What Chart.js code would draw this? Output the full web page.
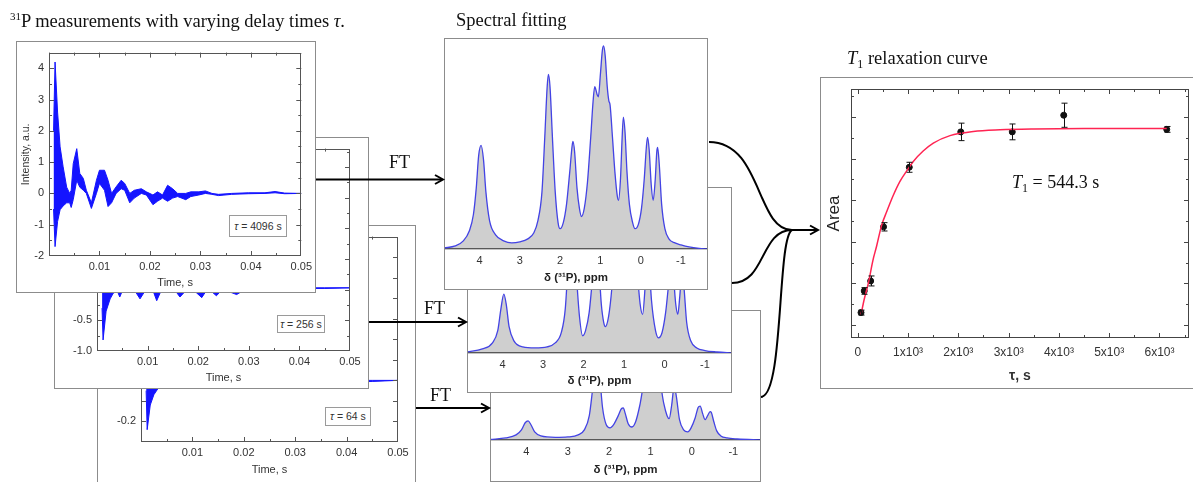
<!DOCTYPE html>
<html>
<head>
<meta charset="utf-8">
<title>31P T1 relaxation</title>
<script src="https://cdn.jsdelivr.net/npm/chart.js@4.4.1/dist/chart.umd.min.js"></script>
<style>
  body { margin: 0; width: 1193px; height: 482px; overflow: hidden; position: relative; background: #fff;
         font-family: "Liberation Serif", "Times New Roman", serif; color: #111; }
  .panel { position: absolute; background: #fff; }
  .panel canvas { position: absolute; left: 0; top: 0; }
  .frame { position: absolute; left: 0; top: 0; right: 0; bottom: 0; border: 1px solid #8c8c8c; }
  .txt { position: absolute; white-space: nowrap; z-index: 11; }
  .tau { position: absolute; border: 1px solid #9a9a9a; background: #fff; box-sizing: border-box;
         font: 10.5px "Liberation Sans", Arial, sans-serif; color: #333; text-align: center; }
  .ft { position: absolute; font-size: 18px; z-index: 11; }
  svg { position: absolute; left: 0; top: 0; z-index: 10; }
</style>
</head>
<body>

<div class="txt" style="left:10px;top:11px;font-size:18.5px"><span style="font-size:11px;position:relative;top:-7px">31</span>P measurements with varying delay times <i>τ</i>.</div>
<div class="txt" style="left:456px;top:10px;font-size:18.5px">Spectral fitting</div>
<div class="txt" style="left:847px;top:48px;font-size:18.5px"><i>T</i><span style="font-size:12px;position:relative;top:4px">1</span> relaxation curve</div>
<div class="txt" style="left:1012px;top:172px;font-size:18px"><i>T</i><span style="font-size:12px;position:relative;top:4px">1</span> = 544.3 s</div>

<div class="ft" style="left:389px;top:152px">FT</div>
<div class="ft" style="left:424px;top:298px">FT</div>
<div class="ft" style="left:430px;top:385px">FT</div>

<svg width="1193" height="482">
  <g fill="none" stroke="#000" stroke-width="2">
    <path d="M316 179.5 H442"/><path d="M435 175 L443 179.5 L435 184"/>
    <path d="M369 322 H465"/><path d="M458 317.5 L466 322 L458 326.5"/>
    <path d="M416 408 H488"/><path d="M481 403.5 L489 408 L481 412.5"/>
    <path d="M709 142 C762 142 756 230 792 230"/>
    <path d="M732 283 C766 283 760 230 792 230"/>
    <path d="M761 397 C784 396 777 238 792 230"/>
    <path d="M790 230 H817"/><path d="M810 225.5 L818 230 L810 234.5"/>
  </g>
</svg>

<script>
// ---------- FID traces (envelope) ----------
const fidTime4096 = [0.0009, 0.0012, 0.0017, 0.0022, 0.0028, 0.0035, 0.0041, 0.0044, 0.0048, 0.0055, 0.0061,
  0.0068, 0.0074, 0.0084, 0.0094, 0.0100, 0.0110, 0.0117, 0.0124, 0.0133, 0.0143, 0.0150, 0.0160, 0.0169,
  0.0183, 0.0193, 0.0206, 0.0215, 0.0225, 0.0235, 0.0245, 0.0255, 0.0271, 0.0281, 0.0297, 0.0310, 0.0323,
  0.0336, 0.0362, 0.0395, 0.0428, 0.0448, 0.0467, 0.0500];
const fidUpper4096 = [2.0, 4.2, 2.6, 1.49, 0.85, 0.2, 0.0, 0.1, 0.95, 1.43, 0.64,
  0.48, 0.1, -0.3, 0.42, 0.74, 0.74, 0.42, 0.0, 0.21, 0.42, 0.32, 0.0, 0.1,
  0.15, 0.05, -0.05, 0.05, -0.05, 0.26, 0.15, 0.0, 0.0, 0.05, 0.05, 0.08, 0.0,
  -0.03, 0.0, 0.02, 0.02, 0.06, 0.01, 0.0];
const fidLower4096 = [-0.5, -1.7, -0.9, -0.52, -0.4, -0.3, -0.3, -0.45, -0.2, 0.42, 0.2,
  0.1, 0.0, -0.48, 0.0, 0.32, 0.1, -0.42, -0.3, 0.0, 0.15, 0.1, -0.3, -0.15,
  0.0, -0.05, -0.36, -0.25, -0.15, -0.25, -0.15, -0.1, -0.2, -0.1, -0.05, 0.0, -0.03,
  -0.07, -0.03, -0.01, 0.0, 0.02, -0.01, 0.0];

const fidTime256 = [0.0010, 0.0012, 0.0018, 0.0026, 0.0032, 0.0040, 0.0045, 0.0050, 0.0060, 0.0075, 0.0085,
  0.0095, 0.0110, 0.0118, 0.0126, 0.0140, 0.0155, 0.0164, 0.0175, 0.0190, 0.0207, 0.0215, 0.0225, 0.0236,
  0.0245, 0.0260, 0.0276, 0.0290, 0.0320, 0.0360, 0.0400, 0.0450, 0.0500];
const fidUpper256 = [0.6, 1.6, 1.0, 0.6, 0.35, 0.25, 0.15, 0.4, 0.6, 0.3, 0.1,
  0.35, 0.35, 0.1, 0.2, 0.2, 0.1, 0.05, 0.12, 0.1, 0.05, 0.1, 0.05, 0.1,
  0.05, 0.05, 0.02, 0.05, 0.04, 0.03, 0.03, 0.03, 0.03];
const fidLower256 = [-0.3, -0.82, -0.35, -0.15, -0.06, -0.02, -0.12, -0.02, 0.0, -0.02, -0.15,
  -0.02, 0.0, -0.18, -0.03, 0.0, -0.02, -0.12, -0.02, 0.0, -0.13, -0.03, -0.02, -0.1,
  -0.02, -0.03, -0.08, -0.01, 0.01, 0.02, 0.02, 0.02, 0.03];

const fidTime64 = [0.0010, 0.0012, 0.0018, 0.0025, 0.0033, 0.0045, 0.0060, 0.0080, 0.0100, 0.0130,
  0.0160, 0.0200, 0.0250, 0.0300, 0.0350, 0.0400, 0.0450, 0.0500];
const fidUpper64 = [0.1, 0.35, 0.2, 0.12, 0.08, 0.05, 0.08, 0.04, 0.05, 0.03, 0.03, 0.02, 0.01, 0.01, 0.0, 0.0, 0.0, 0.0];
const fidLower64 = [-0.05, -0.24, -0.12, -0.07, -0.04, -0.02, -0.01, -0.02, -0.01, -0.01, 0.0, -0.01, 0.0, -0.01, 0.0, -0.01, -0.005, 0.0];

// ---------- 31P spectra (ppm, intensity) ----------
const ppm4096 = [4.88, 4.6, 4.4, 4.25, 4.15, 4.08, 4.02, 3.96, 3.90, 3.84, 3.75, 3.6, 3.4, 3.2, 3.0, 2.8, 2.65,
  2.55, 2.45, 2.38, 2.32, 2.29, 2.25, 2.19, 2.12, 2.05, 2.0, 1.92, 1.84, 1.76, 1.70, 1.68, 1.64, 1.58, 1.52,
  1.47, 1.40, 1.32, 1.24, 1.18, 1.14, 1.08, 1.05, 1.00, 0.95, 0.92, 0.88, 0.83, 0.79, 0.76, 0.70, 0.64, 0.58,
  0.55, 0.50, 0.46, 0.43, 0.39, 0.34, 0.28, 0.20, 0.14, 0.06, -0.02, -0.09, -0.14, -0.17, -0.21, -0.26,
  -0.31, -0.36, -0.40, -0.42, -0.46, -0.52, -0.60, -0.70, -0.85, -1.0, -1.2, -1.45, -1.67];
const int4096 = [0.005, 0.015, 0.04, 0.09, 0.17, 0.30, 0.46, 0.51, 0.44, 0.28, 0.14, 0.07, 0.04, 0.03, 0.035, 0.05, 0.08,
  0.14, 0.28, 0.55, 0.80, 0.86, 0.80, 0.55, 0.28, 0.13, 0.10, 0.13, 0.22, 0.38, 0.51, 0.53, 0.48, 0.30, 0.20,
  0.16, 0.20, 0.33, 0.55, 0.73, 0.80, 0.76, 0.75, 0.86, 0.98, 1.00, 0.95, 0.80, 0.73, 0.71, 0.55, 0.38, 0.26,
  0.24, 0.35, 0.55, 0.65, 0.58, 0.38, 0.22, 0.13, 0.10, 0.12, 0.20, 0.35, 0.50, 0.55, 0.49, 0.32,
  0.24, 0.34, 0.48, 0.50, 0.42, 0.22, 0.10, 0.05, 0.03, 0.02, 0.01, 0.003, 0.0];

const ppm256 = [4.88, 4.5, 4.25, 4.12, 4.04, 3.97, 3.91, 3.84, 3.72, 3.5, 3.2, 2.9, 2.7, 2.55, 2.45, 2.38,
  2.32, 2.29, 2.25, 2.18, 2.10, 2.02, 1.95, 1.86, 1.78, 1.71, 1.67, 1.62, 1.56, 1.50, 1.46, 1.38, 1.30,
  1.22, 1.15, 1.06, 0.98, 0.92, 0.85, 0.77, 0.68, 0.60, 0.54, 0.48, 0.43, 0.38, 0.32, 0.22, 0.15, 0.06,
  -0.03, -0.10, -0.17, -0.22, -0.28, -0.33, -0.38, -0.43, -0.48, -0.55, -0.65, -0.8, -1.0, -1.3, -1.67];
const int256 = [0.005, 0.02, 0.05, 0.11, 0.22, 0.29, 0.24, 0.13, 0.06, 0.03, 0.025, 0.03, 0.05, 0.10, 0.22, 0.45,
  0.68, 0.72, 0.66, 0.40, 0.18, 0.085, 0.11, 0.20, 0.36, 0.47, 0.49, 0.42, 0.24, 0.15, 0.13, 0.18, 0.32,
  0.55, 0.68, 0.64, 0.75, 0.86, 0.78, 0.62, 0.42, 0.24, 0.19, 0.32, 0.50, 0.44, 0.26, 0.11, 0.075, 0.10,
  0.20, 0.33, 0.44, 0.38, 0.24, 0.19, 0.28, 0.40, 0.33, 0.15, 0.06, 0.025, 0.012, 0.005, 0.0];

const ppm64 = [4.88, 4.5, 4.25, 4.12, 4.03, 3.96, 3.89, 3.80, 3.65, 3.3, 3.0, 2.75, 2.6, 2.48, 2.40, 2.33,
  2.29, 2.24, 2.16, 2.07, 1.98, 1.88, 1.78, 1.70, 1.66, 1.61, 1.54, 1.45, 1.36, 1.26, 1.16, 1.05, 0.95,
  0.88, 0.78, 0.68, 0.60, 0.55, 0.49, 0.43, 0.38, 0.30, 0.20, 0.10, 0.02, -0.08, -0.15, -0.20, -0.26,
  -0.32, -0.38, -0.44, -0.47, -0.53, -0.6, -0.7, -0.85, -1.1, -1.67];
const int64 = [0.003, 0.01, 0.025, 0.05, 0.085, 0.094, 0.075, 0.04, 0.02, 0.013, 0.015, 0.025, 0.05, 0.12, 0.25, 0.38,
  0.40, 0.34, 0.16, 0.075, 0.06, 0.08, 0.12, 0.155, 0.158, 0.13, 0.08, 0.064, 0.09, 0.17, 0.28, 0.32, 0.38,
  0.36, 0.30, 0.18, 0.12, 0.105, 0.17, 0.26, 0.22, 0.10, 0.05, 0.04, 0.06, 0.11, 0.16, 0.167, 0.13,
  0.10, 0.12, 0.14, 0.135, 0.09, 0.045, 0.02, 0.01, 0.005, 0.0];

// ---------- T1 relaxation ----------
const relaxTau = [64, 128, 256, 512, 1024, 2048, 3072, 4096, 6144];
const relaxArea = [1.30, 1.82, 2.06, 3.36, 4.79, 5.64, 5.64, 6.04, 5.70];
const relaxErr = [0.06, 0.08, 0.12, 0.10, 0.12, 0.21, 0.19, 0.29, 0.07];
const fitTau = [64, 128, 209, 300, 375, 475, 574, 700, 839, 1000, 1104, 1300, 1502, 1834, 2297, 2828, 3500, 4500, 6144];
const fitArea = [1.25, 1.62, 2.00, 2.55, 2.90, 3.40, 3.72, 4.10, 4.45, 4.75, 4.93, 5.18, 5.37, 5.55, 5.65, 5.69, 5.71, 5.72, 5.72];
const tauTicks = [0, 1000, 2000, 3000, 4000, 5000, 6000];

const fidBlue = '#1414ff';
const specBlue = '#4343e4';
const sans = '"Liberation Sans", Arial, sans-serif';
Chart.defaults.font.family = sans;
Chart.defaults.color = '#333';

// inward ticks on all four sides + box, drawn from the scales' own ticks
const frameTicks = {
  id: 'frameTicks',
  afterDraw(chart, args, opts) {
    const {ctx, chartArea: a} = chart;
    const xs = chart.scales.x, ys = chart.scales.y;
    const L = 5, l = 3;
    ctx.save();
    ctx.strokeStyle = opts.color || '#555';
    ctx.lineWidth = 1;
    ctx.strokeRect(Math.round(a.left) + 0.5, Math.round(a.top) + 0.5, Math.round(a.right - a.left) - 1, Math.round(a.bottom - a.top) - 1);
    ctx.beginPath();
    const markX = (vals, len) => vals.forEach(v => {
      const p = Math.round(xs.getPixelForValue(v)) + 0.5;
      if (p < a.left || p > a.right) return;
      ctx.moveTo(p, a.bottom); ctx.lineTo(p, a.bottom - len);
      ctx.moveTo(p, a.top); ctx.lineTo(p, a.top + len);
    });
    const markY = (vals, len) => vals.forEach(v => {
      const p = Math.round(ys.getPixelForValue(v)) + 0.5;
      if (p < a.top || p > a.bottom) return;
      ctx.moveTo(a.left, p); ctx.lineTo(a.left + len, p);
      ctx.moveTo(a.right, p); ctx.lineTo(a.right - len, p);
    });
    const minors = (vals, lo, hi) => {
      const out = [];
      if (vals.length < 2) return out;
      const s = vals[1] - vals[0];
      for (let v = vals[0] - s / 2; v <= hi; v += s) if (v >= lo) out.push(v);
      return out;
    };
    const xt = xs.ticks.map(t => t.value), yt = ys.ticks.map(t => t.value);
    markX(xt, L); markY(yt, L);
    if (opts.minorX) markX(minors(xt, xs.min, xs.max), l);
    if (opts.minorY) markY(minors(yt, ys.min, ys.max), l);
    ctx.stroke();
    ctx.restore();
  }
};

// vertical error bars for the T1 points
const errorBars = {
  id: 'errorBars',
  afterDatasetsDraw(chart) {
    const {ctx} = chart;
    const xs = chart.scales.x, ys = chart.scales.y;
    ctx.save();
    ctx.strokeStyle = '#111';
    ctx.lineWidth = 1;
    ctx.beginPath();
    relaxTau.forEach((t, i) => {
      const px = Math.round(xs.getPixelForValue(t)) + 0.5;
      const top = ys.getPixelForValue(relaxArea[i] + relaxErr[i]);
      const bot = ys.getPixelForValue(relaxArea[i] - relaxErr[i]);
      ctx.moveTo(px, top); ctx.lineTo(px, bot);
      ctx.moveTo(px - 3, top); ctx.lineTo(px + 3, top);
      ctx.moveTo(px - 3, bot); ctx.lineTo(px + 3, bot);
    });
    ctx.stroke();
    ctx.restore();
  }
};

function makePanel(f, z) {
  const div = document.createElement('div');
  div.className = 'panel';
  Object.assign(div.style, {left: f.x + 'px', top: f.y + 'px', width: f.w + 'px', height: f.h + 'px', zIndex: z});
  const cv = document.createElement('canvas');
  cv.width = f.w;
  cv.height = f.h;
  div.appendChild(cv);
  const fr = document.createElement('div');
  fr.className = 'frame';
  div.appendChild(fr);
  document.body.appendChild(div);
  return div;
}

function addTau(div, box, value) {
  const t = document.createElement('div');
  t.className = 'tau';
  Object.assign(t.style, {left: box.x + 'px', top: box.y + 'px', width: box.w + 'px', height: box.h + 'px', lineHeight: (box.h - 2) + 'px'});
  t.innerHTML = '<i>τ</i> = ' + value + ' s';
  div.appendChild(t);
}

const noGrid = {display: false, drawTicks: false};

function fidChart(f, plot, z, t, up, lo, yOpt, titlePad, yTitle) {
  const div = makePanel(f, z);
  const toXY = arr => t.map((v, i) => ({x: v, y: arr[i]}));
  new Chart(div.querySelector('canvas'), {
    type: 'line',
    data: {
      datasets: [
        {data: toXY(up), borderColor: fidBlue, backgroundColor: fidBlue, borderWidth: 1, pointRadius: 0, fill: '+1', tension: 0},
        {data: toXY(lo), borderColor: fidBlue, borderWidth: 1, pointRadius: 0, fill: false, tension: 0}
      ]
    },
    options: {
      responsive: false, animation: false, devicePixelRatio: 1,
      layout: {padding: {left: 0, top: plot.t - f.y, right: f.x + f.w - plot.r, bottom: 0}},
      plugins: {legend: {display: false}, tooltip: {enabled: false}, frameTicks: {minorX: true, minorY: yOpt.minor}},
      scales: {
        x: {
          type: 'linear', min: 0, max: 0.05,
          afterFit: s => { s.height = f.y + f.h - plot.b; },
          grid: noGrid, border: {display: false},
          ticks: {stepSize: 0.01, includeBounds: false, padding: 4, maxRotation: 0, autoSkip: false, font: {size: 11}, color: '#333',
                  callback: v => Math.abs(v) < 1e-9 ? '' : v.toFixed(2)},
          title: {display: true, text: 'Time, s', font: {size: 11}, color: '#333', padding: {top: 0, bottom: titlePad}}
        },
        y: {
          type: 'linear', min: yOpt.min, max: yOpt.max,
          afterFit: s => { s.width = plot.l - f.x; },
          grid: noGrid, border: {display: false},
          ticks: {stepSize: yOpt.step, includeBounds: false, padding: 5, autoSkip: false, font: {size: 11}, color: '#333', callback: yOpt.fmt},
          title: {display: !!yTitle, text: yTitle || '', font: {size: 10.5}, color: '#333', padding: {top: 4, bottom: 0}}
        }
      }
    },
    plugins: [frameTicks]
  });
  return div;
}

function specChart(f, axisY, z, ppm, inten, yMax, titlePad) {
  const div = makePanel(f, z);
  new Chart(div.querySelector('canvas'), {
    type: 'line',
    data: {
      datasets: [{
        data: ppm.map((p, i) => ({x: p, y: inten[i]})),
        borderColor: specBlue, borderWidth: 1.3, backgroundColor: 'rgba(160,160,160,0.5)',
        fill: 'origin', pointRadius: 0, cubicInterpolationMode: 'monotone'
      }]
    },
    options: {
      responsive: false, animation: false, devicePixelRatio: 1,
      layout: {padding: 0},
      plugins: {legend: {display: false}, tooltip: {enabled: false}},
      scales: {
        x: {
          type: 'linear', reverse: true, min: -1.67, max: 4.88,
          afterFit: s => { s.height = f.y + f.h - axisY; },
          grid: noGrid, border: {display: true, color: '#111', width: 1.2},
          ticks: {stepSize: 1, includeBounds: false, padding: 5, maxRotation: 0, font: {size: 11}, color: '#333'},
          title: {display: true, text: 'δ (³¹P), ppm', font: {size: 11.5, weight: 'bold'}, color: '#222', padding: {top: 0, bottom: titlePad}}
        },
        y: {display: false, min: 0, max: yMax}
      }
    }
  });
}

// ---------- FID panels (back to front) ----------
const p64 = fidChart({x: 97, y: 225, w: 319, h: 258}, {l: 141, t: 233, r: 398, b: 442}, 1,
  fidTime64, fidUpper64, fidLower64,
  {min: -0.3, max: 0.7, step: 0.1, minor: false, fmt: v => Math.abs(Math.round(v * 10)) % 2 === 0 ? v.toFixed(1) : ''}, 6);
addTau(p64, {x: 228, y: 182, w: 46, h: 19}, '64');

const p256 = fidChart({x: 54, y: 137, w: 315, h: 252}, {l: 97, t: 147, r: 350, b: 351}, 2,
  fidTime256, fidUpper256, fidLower256,
  {min: -1.0, max: 2.3, step: 0.5, minor: true, fmt: v => v.toFixed(1)}, 4);
addTau(p256, {x: 223, y: 178, w: 48, h: 18}, '256');

const p4096 = fidChart({x: 16, y: 41, w: 300, h: 252}, {l: 49, t: 50, r: 303, b: 256}, 3,
  fidTime4096, fidUpper4096, fidLower4096,
  {min: -2, max: 4.5, step: 1, minor: true, fmt: v => v}, 3, 'Intensity, a.u.');
addTau(p4096, {x: 213, y: 174, w: 58, h: 22}, '4096');

// ---------- spectra (back to front) ----------
specChart({x: 490, y: 310, w: 271, h: 172}, 440, 1, ppm64, int64, 130 / 203, 5);
specChart({x: 467, y: 187, w: 265, h: 206}, 353, 2, ppm256, int256, 166 / 203, 5);
specChart({x: 444, y: 38, w: 264, h: 252}, 249, 3, ppm4096, int4096, 211 / 203, 5);

// ---------- T1 relaxation curve ----------
const t1f = {x: 820, y: 77, w: 380, h: 312};
const t1p = {l: 851, t: 89, r: 1189, b: 338};
const t1div = makePanel(t1f, 1);
new Chart(t1div.querySelector('canvas'), {
  type: 'line',
  data: {
    datasets: [
      {data: fitTau.map((v, i) => ({x: v, y: fitArea[i]})), borderColor: '#ff2452', borderWidth: 1.5,
       pointRadius: 0, fill: false, cubicInterpolationMode: 'monotone'},
      {data: relaxTau.map((v, i) => ({x: v, y: relaxArea[i]})), showLine: false, pointRadius: 3,
       pointBackgroundColor: '#111', pointBorderColor: '#111'}
    ]
  },
  options: {
    responsive: false, animation: false, devicePixelRatio: 1,
    layout: {padding: {left: 0, top: t1p.t - t1f.y, right: t1f.x + t1f.w - t1p.r, bottom: 0}},
    plugins: {legend: {display: false}, tooltip: {enabled: false}, frameTicks: {minorX: true, minorY: true, color: '#444'}},
    scales: {
      x: {
        type: 'linear', min: -135, max: 6587,
        afterBuildTicks: s => { s.ticks = tauTicks.map(v => ({value: v})); },
        afterFit: s => { s.height = t1f.y + t1f.h - t1p.b; },
        grid: noGrid, border: {display: false},
        ticks: {padding: 7, maxRotation: 0, autoSkip: false, font: {size: 12}, color: '#333',
                callback: v => v === 0 ? '0' : (v / 1000) + 'x10³'},
        title: {display: true, text: 'τ, s', font: {size: 14, weight: 'bold'}, color: '#333', padding: {top: 0, bottom: 4}}
      },
      y: {
        type: 'linear', min: 0.69, max: 6.67,
        afterFit: s => { s.width = t1p.l - t1f.x; },
        grid: noGrid, border: {display: false},
        ticks: {stepSize: 1, includeBounds: false, display: false},
        title: {display: true, text: 'Area', font: {size: 17}, color: '#222', padding: {top: 4, bottom: 0}}
      }
    }
  },
  plugins: [frameTicks, errorBars]
});
</script>
</body>
</html>
